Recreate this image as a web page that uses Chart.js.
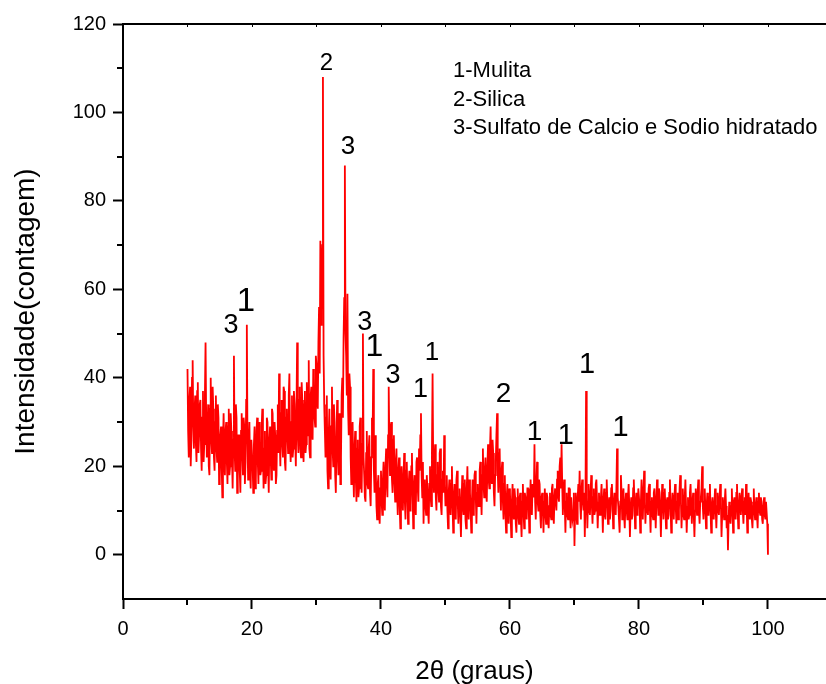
<!DOCTYPE html>
<html><head><meta charset="utf-8">
<script src="https://cdn.jsdelivr.net/npm/chart.js@4"></script>
<style>html,body{margin:0;padding:0;background:#fff;}canvas{display:block;}</style>
</head><body>
<canvas id="c" width="826" height="684"></canvas>
<script>
// Scan grid (2-theta, degrees)
const startAngle = 10;
const stepAngle = 0.1;
const intensity = [
  42,28,22,35,38,20,26,40,44,29,24,33,36,25,21,37,39,23,27,34,
  35,24,19,31,37,21,25,36,48,30,22,28,34,20,18,33,40,26,23,38,
  33,22,19,30,36,24,21,34,31,16,17,27,29,20,13,25,32,23,18,28,
  30,21,16,29,33,18,20,32,28,22,15,26,45,24,19,34,31,14,17,27,
  27,19,14,28,32,23,18,31,29,16,21,35,52,26,17,24,30,19,15,26,
  26,20,14,25,29,15,17,28,31,21,16,30,27,18,19,29,33,22,15,24,
  28,16,18,31,30,20,14,26,29,22,17,33,32,21,19,30,27,16,18,28,
  34,23,41,26,20,32,35,25,22,38,37,21,19,31,33,27,23,36,41,25,
  21,30,36,22,24,37,34,26,20,33,48,27,23,35,38,24,22,39,35,26,
  21,34,37,23,25,39,33,27,44,24,22,36,38,28,26,42,40,31,29,45,
  43,36,33,48,56,41,71,52,62,70,108,45,34,28,22,31,36,19,15,27,
  33,21,17,29,38,24,20,34,30,18,14,26,35,23,18,32,29,16,22,36,
  40,31,49,58,88,50,45,36,59,33,27,41,38,22,16,28,30,19,13,24,
  28,17,12,24,26,13,15,29,31,20,14,25,50,22,18,13,12,23,28,16,
  15,24,27,14,11,22,31,26,42,19,14,27,19,11,8,16,18,10,7,15,
  19,12,9,17,21,13,10,20,24,16,13,27,38,25,18,29,30,17,14,26,
  27,16,12,21,24,14,9,19,22,11,6,17,20,13,10,18,23,12,8,19,
  21,13,7,16,19,10,11,20,23,14,6,15,18,12,9,21,22,15,12,24,
  19,27,32,18,13,21,7,14,17,11,9,18,15,10,7,16,20,13,11,23,
  41,20,14,22,25,13,10,18,21,15,12,23,24,11,9,17,19,14,27,16,
  11,15,18,10,6,14,17,12,9,16,20,11,5,13,16,9,8,17,19,12,
  7,13,15,9,4,12,18,11,9,16,17,8,6,15,20,12,8,17,14,10,
  5,12,17,9,10,18,19,13,7,14,16,11,11,19,21,14,9,18,24,16,
  13,19,22,14,12,20,25,17,15,24,29,18,16,26,23,14,11,18,21,27,
  32,19,14,23,24,15,10,19,21,12,8,16,18,9,5,13,16,10,7,15,
  14,9,4,12,16,10,8,15,13,7,5,11,15,9,7,13,14,8,4,12,
  16,10,6,14,13,9,8,15,15,11,5,12,17,10,9,16,14,13,25,12,
  8,16,21,12,10,17,16,9,6,13,14,10,5,12,15,9,7,14,13,8,
  6,11,14,9,8,15,16,10,7,13,15,12,10,17,19,13,12,20,22,15,
  25,16,9,14,17,11,5,12,14,9,8,15,15,10,6,13,13,8,9,14,
  2,10,14,9,7,13,16,12,19,11,8,15,17,12,10,14,4,11,37,13,
  6,12,16,10,9,14,18,11,7,13,15,9,10,16,17,12,6,11,14,9,
  9,13,16,11,5,12,15,9,8,14,17,12,7,11,13,8,10,15,16,12,
  6,11,14,10,9,15,24,13,11,8,5,12,18,14,8,13,15,9,6,12,
  14,10,8,13,16,11,4,10,13,8,9,15,17,12,6,11,14,9,10,15,
  15,11,5,12,17,13,8,14,19,12,7,11,14,10,9,15,16,10,5,12,
  13,9,8,14,15,11,6,12,17,13,9,15,14,10,4,11,16,12,8,14,
  15,10,6,12,13,8,9,14,17,11,5,10,14,12,8,13,16,11,7,12,
  14,8,10,15,18,12,6,11,15,9,8,13,17,11,5,10,13,8,9,14,
  16,11,7,12,14,9,4,10,15,12,9,14,17,10,7,12,13,15,20,11,
  8,12,15,10,6,11,14,9,9,13,16,10,5,11,13,9,8,12,15,10,
  6,11,14,10,9,13,16,12,4,9,13,10,8,12,15,11,6,9,1,8,
  12,9,7,11,15,10,5,12,13,9,8,14,16,10,6,11,14,12,9,13,
  15,10,7,12,13,9,16,11,5,10,14,9,8,13,12,8,6,11,15,10,
  8,11,13,9,6,12,14,10,9,13,12,8,7,11,13,9,8,12,12,7,
  0
];
const xTicks = [0,20,40,60,80,100];
const xMinorTicks = [10,30,50,70,90];
const topTicks = [10,20,30,40,50,60,70,80,90,100];
const yTicks = [0,20,40,60,80,100,120];
const yMinorTicks = [10,30,50,70,90,110];
// Peak phase labels (text, 2-theta, intensity)
const peakText  = ['3','1','2','3','3','1','3','1','1','2','1','1','1','1'];
const peakAngle = [16.74,19.07,31.53,34.88,37.47,38.98,41.86,46.11,47.91,59.02,63.81,68.64,71.97,77.16];
const peakLevel = [50.2,55.1,109.7,90.7,50.9,44.9,38.9,35.7,44.0,34.6,25.9,25.0,41.1,26.9];
const peakFontSize = [27,33,24,26,27,32,27,27,26,28,28,29,29,29];
const legendLines = ['1-Mulita','2-Silica','3-Sulfato de Calcio e Sodio hidratado'];

const FONT = '"Liberation Sans", Arial, Helvetica, sans-serif';
const points = intensity.map((v, i) => ({ x: startAngle + i * stepAngle, y: v }));

const decor = {
  id: 'decor',
  afterDraw(chart) {
    const { ctx, chartArea: a, scales: { x, y } } = chart;
    ctx.save();
    ctx.strokeStyle = '#000';
    ctx.lineWidth = 2;
    ctx.beginPath();
    ctx.moveTo(a.left - 1, a.top);
    ctx.lineTo(chart.width, a.top);
    ctx.stroke();
    ctx.beginPath();
    xMinorTicks.forEach(v => { const p = Math.round(x.getPixelForValue(v)); ctx.moveTo(p, a.bottom); ctx.lineTo(p, a.bottom + 6); });
    yMinorTicks.forEach(v => { const p = Math.round(y.getPixelForValue(v)); ctx.moveTo(a.left, p); ctx.lineTo(a.left - 6, p); });
    ctx.stroke();
    ctx.lineWidth = 1;
    ctx.beginPath();
    topTicks.forEach(v => { const p = Math.round(x.getPixelForValue(v)) + 0.5; ctx.moveTo(p, a.top); ctx.lineTo(p, a.top + 3); });
    ctx.stroke();
    ctx.fillStyle = '#000';
    ctx.textAlign = 'center';
    ctx.textBaseline = 'alphabetic';
    peakText.forEach((t, i) => {
      ctx.font = peakFontSize[i] + 'px ' + FONT;
      ctx.fillText(t, x.getPixelForValue(peakAngle[i]), y.getPixelForValue(peakLevel[i]));
    });
    ctx.textAlign = 'left';
    ctx.font = '22px ' + FONT;
    legendLines.forEach((t, i) => ctx.fillText(t, 453, 77 + i * 28.5));
    ctx.restore();
  }
};

new Chart(document.getElementById('c'), {
  type: 'line',
  data: { datasets: [{ data: points, borderColor: '#ff0000', borderWidth: 1.8, pointRadius: 0, tension: 0, fill: false, borderJoinStyle: 'miter' }] },
  options: {
    responsive: false,
    animation: false,
    layout: { padding: { top: 24, left: 0, right: 0, bottom: 0 } },
    plugins: { legend: { display: false }, tooltip: { enabled: false } },
    scales: {
      x: {
        type: 'linear', min: 0, max: 109,
        afterBuildTicks: s => { s.ticks = xTicks.map(v => ({ value: v })); },
        afterFit: s => { s.height = 85; },
        grid: { drawOnChartArea: false, drawTicks: true, tickLength: 10, tickWidth: 2, tickColor: '#000' },
        border: { display: true, width: 2, color: '#000' },
        ticks: { color: '#000', padding: 8, maxRotation: 0, font: { size: 20, family: FONT } },
        title: { display: true, text: '2θ (graus)', color: '#000', padding: { top: 0, bottom: 0 }, font: { size: 26, family: FONT, lineHeight: 0.9 } }
      },
      y: {
        type: 'linear', min: -10, max: 120,
        afterBuildTicks: s => { s.ticks = yTicks.map(v => ({ value: v })); },
        afterFit: s => { s.width = 123; },
        grid: { drawOnChartArea: false, drawTicks: true, tickLength: 10, tickWidth: 2, tickColor: '#000' },
        border: { display: true, width: 2, color: '#000' },
        ticks: { color: '#000', padding: 7, font: { size: 20, family: FONT } },
        title: { display: true, text: 'Intensidade(contagem)', color: '#000', padding: { top: 9, bottom: 0 }, font: { size: 28, family: FONT, lineHeight: 1.2 } }
      }
    }
  },
  plugins: [decor]
});
</script>
</body></html>
